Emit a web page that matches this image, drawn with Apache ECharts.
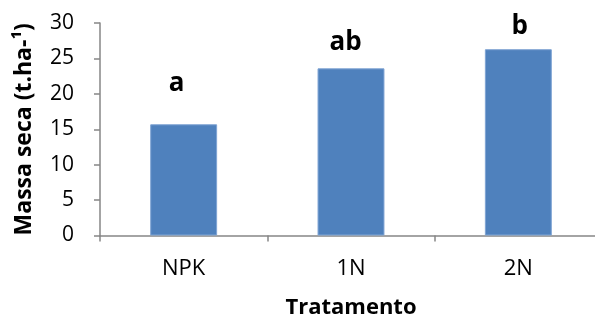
<!DOCTYPE html>
<html>
<head>
<meta charset="utf-8">
<script src="https://cdn.jsdelivr.net/npm/echarts@6/dist/echarts.min.js"></script>
<style>
  html, body { margin: 0; padding: 0; background: #fff; }
  #chart { width: 595px; height: 320px; }
</style>
</head>
<body>
<div id="chart"></div>
<script>
// dados
const categories = ['NPK', '1N', '2N']
const massaSeca = [15.7, 23.6, 26.3]
const letras = ['a', 'ab', 'b']

const FONT = '"Open Sans", sans-serif'
const AXIS_COLOR = '#868686'

// as letras foram colocadas à mão no original, cada uma com o seu deslocamento
const letraDistancia = [28, 13, 10]
const letraDeslocX = [-7, -5.5, 1.3]

const chart = echarts.init(document.getElementById('chart'))

chart.setOption({
  animation: false,
  grid: { left: 100, right: -7, top: 23, bottom: 84.5, outerBoundsMode: 'none', containLabel: false },
  xAxis: {
    type: 'category',
    data: categories,
    name: 'Tratamento',
    nameLocation: 'middle',
    nameGap: 61,
    nameTextStyle: { fontFamily: FONT, fontSize: 22, fontWeight: 'bold', color: '#000' },
    axisLine: { lineStyle: { color: AXIS_COLOR, width: 1.5 } },
    axisTick: { show: true, alignWithLabel: false, length: 6, lineStyle: { color: AXIS_COLOR, width: 1.5 } },
    axisLabel: { fontFamily: FONT, fontSize: 22, color: '#000', margin: 22 }
  },
  yAxis: {
    type: 'value',
    min: 0,
    max: 30,
    interval: 5,
    name: 'Massa seca (t.ha-¹)',
    nameLocation: 'middle',
    nameGap: 64,
    nameTextStyle: { fontFamily: FONT, fontSize: 23, fontWeight: 'bold', color: '#000' },
    axisLine: { show: true, lineStyle: { color: AXIS_COLOR, width: 1.5 } },
    axisTick: { show: true, length: 6, lineStyle: { color: AXIS_COLOR, width: 1.5 } },
    axisLabel: { fontFamily: FONT, fontSize: 21, color: '#000', margin: 26 },
    splitLine: { show: false }
  },
  series: [
    {
      type: 'bar',
      data: massaSeca.map((v, i) => ({
        value: v,
        label: { distance: letraDistancia[i], offset: [letraDeslocX[i], 0] }
      })),
      barWidth: '40%',
      itemStyle: { color: '#4F81BD', borderColor: '#7FA4D4', borderWidth: 1 },
      label: {
        show: true,
        position: 'top',
        formatter: (p) => letras[p.dataIndex],
        fontFamily: FONT,
        fontSize: 26,
        fontWeight: 'bold',
        color: '#000'
      }
    }
  ]
})
</script>
</body>
</html>
